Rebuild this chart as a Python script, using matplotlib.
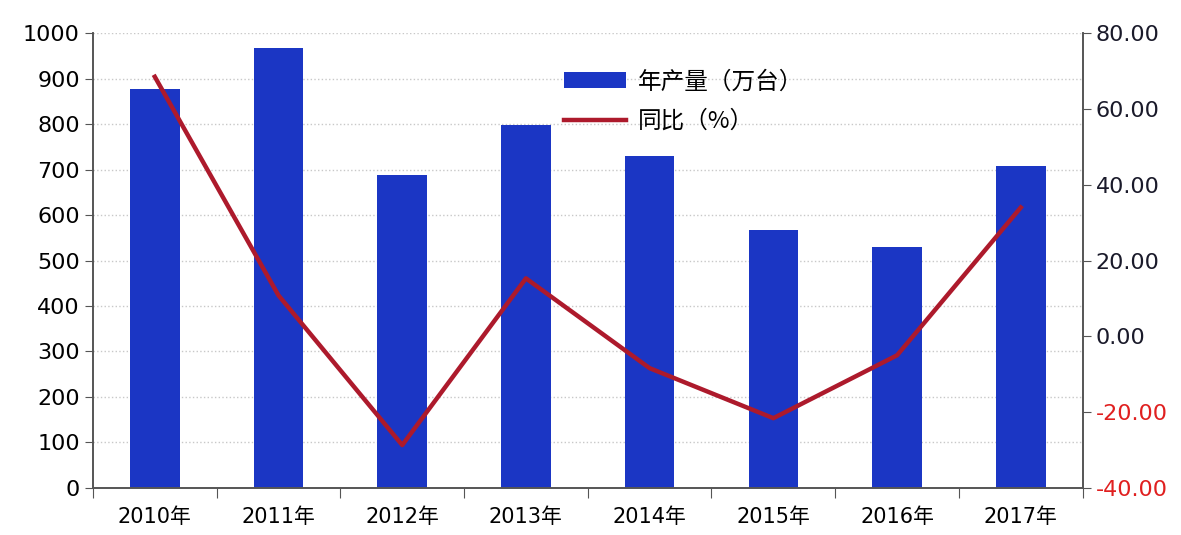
import matplotlib.pyplot as plt
import numpy as np

plt.rcParams['font.family'] = ['DejaVu Sans', 'Noto Sans CJK SC']

years = ['2010年', '2011年', '2012年', '2013年', '2014年', '2015年', '2016年', '2017年']
output = [877, 967, 688, 798, 730, 567, 530, 708]  # 万台
yoy = [68.5, 10.8, -28.7, 15.3, -8.4, -21.6, -5.0, 34.0]  # %

bar_color = '#1b36c4'
line_color = '#ad1a2c'

fig = plt.figure(figsize=(11.81, 5.35), dpi=100)
ax = fig.add_axes([0.0787, 0.088, 0.838, 0.850])
ax2 = ax.twinx()

x = np.arange(len(years))
bars = ax.bar(x, output, width=0.4, color=bar_color, label='年产量（万台）', zorder=2)
line, = ax2.plot(x, yoy, color=line_color, linewidth=3.2, label='同比（%）', zorder=3)

ax.set_xlim(-0.5, len(years) - 0.5)
ax.set_ylim(0, 1000)
ax.set_yticks(range(0, 1001, 100))
ax2.set_ylim(-40, 80)
ax2.set_yticks(range(-40, 81, 20))
ax2.set_yticklabels([f'{v:.2f}' for v in range(-40, 81, 20)])
for lbl, v in zip(ax2.get_yticklabels(), range(-40, 81, 20)):
    lbl.set_color('#e02020' if v < 0 else '#1a1a2a')

# x ticks on category boundaries, labels centred
ax.set_xticks(np.arange(-0.5, len(years), 1))
ax.set_xticklabels([])
ax.set_xticks(x, minor=True)
ax.set_xticklabels(years, minor=True, fontsize=15, family=['DejaVu Sans', 'Noto Sans CJK SC'])
ax.tick_params(axis='x', which='minor', length=0, pad=14)
ax.tick_params(axis='x', which='major', length=7, direction='out', color='#555555')

ax.tick_params(axis='y', labelsize=16, length=6, color='#555555')
ax2.tick_params(axis='y', labelsize=16, length=6, color='#555555')

ax.yaxis.grid(True, linestyle=':', color='#c8c8c8', linewidth=1)
ax.set_axisbelow(True)

for a in (ax, ax2):
    a.spines['top'].set_visible(False)
    for s in ('left', 'right', 'bottom'):
        a.spines[s].set_color('#555555')
        a.spines[s].set_linewidth(1.2)

ax.legend([bars, line], ['年产量（万台）', '同比（%）'], loc='upper left',
          bbox_to_anchor=(0.455, 0.965), frameon=False,
          handlelength=2.6, handleheight=0.7, handletextpad=0.5, labelspacing=0.7,
          prop={'family': ['Noto Sans CJK SC'], 'size': 17})

fig.savefig('out.png', dpi=100)
